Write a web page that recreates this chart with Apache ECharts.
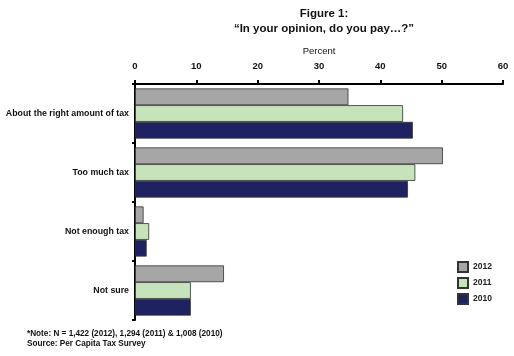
<!DOCTYPE html>
<html><head><meta charset="utf-8">
<script src="https://cdn.jsdelivr.net/npm/echarts@6/dist/echarts.min.js"></script>
<style>html,body{margin:0;padding:0;background:#fff}#c{width:514px;height:356px}</style>
</head><body><div id="c"></div>
<script>
const categories = ["About the right amount of tax", "Too much tax", "Not enough tax", "Not sure"];
const years = ["2012", "2011", "2010"];
const v2012 = [34.8, 50.2, 1.4, 14.5];
const v2011 = [43.7, 45.7, 2.3, 9.1];
const v2010 = [45.3, 44.5, 1.9, 9.1];
const xTicks = [0, 10, 20, 30, 40, 50, 60];
const colors = ["#a6a6a6", "#c6e3bc", "#1f2261"];
const values = [v2012, v2011, v2010];

const font = "'Liberation Sans', Arial, sans-serif";
const chart = echarts.init(document.getElementById('c'), null, {renderer: 'canvas'});
chart.setOption({
  animation: false,
  textStyle: {fontFamily: font},
  title: {
    text: "Figure 1:\n\u201cIn your opinion, do you pay\u2026?\u201d",
    left: 319, top: 1, textAlign: 'center',
    textStyle: {fontSize: 11.5, fontWeight: 'bold', color: '#111', lineHeight: 15, fontFamily: font}
  },
  legend: {
    orient: 'vertical', left: 452, top: 256,
    icon: 'rect',
    itemWidth: 10, itemHeight: 10, itemGap: 4,
    textStyle: {fontSize: 8.5, fontWeight: 'bold', color: '#222', fontFamily: font},
    data: years
  },
  grid: {left: 135, right: 11, top: 84, bottom: 36},
  xAxis: {
    type: 'value', position: 'top', min: xTicks[0], max: xTicks[xTicks.length - 1], interval: 10,
    name: 'Percent', nameLocation: 'middle', nameGap: 26,
    nameTextStyle: {fontSize: 9.5, color: '#111', fontFamily: font},
    axisLine: {show: true, lineStyle: {color: '#000', width: 2}},
    axisTick: {show: true, length: 4, lineStyle: {color: '#000', width: 2}},
    axisLabel: {fontSize: 9.5, fontWeight: 'bold', color: '#111', margin: 13, fontFamily: font},
    splitLine: {show: false}
  },
  yAxis: {
    type: 'category', inverse: true, data: categories,
    axisLine: {show: true, lineStyle: {color: '#000', width: 2}},
    axisTick: {show: true, length: 3, lineStyle: {color: '#000', width: 2}},
    axisLabel: {fontSize: 8.8, fontWeight: 'bold', color: '#111', margin: 6, fontFamily: font}
  },
  series: years.map((y, i) => ({
    name: y, type: 'bar', data: values[i],
    barGap: '0%', barCategoryGap: '15%',
    itemStyle: {color: colors[i], borderColor: '#333', borderWidth: 0.8}
  })),
  graphic: [{
    type: 'text', left: 27, top: 329,
    style: {
      text: "*Note: N = 1,422 (2012), 1,294 (2011) & 1,008 (2010)\nSource: Per Capita Tax Survey",
      font: "bold 8.2px 'Liberation Sans', Arial, sans-serif", fill: '#111', lineHeight: 10
    }
  }]
});
</script></body></html>
